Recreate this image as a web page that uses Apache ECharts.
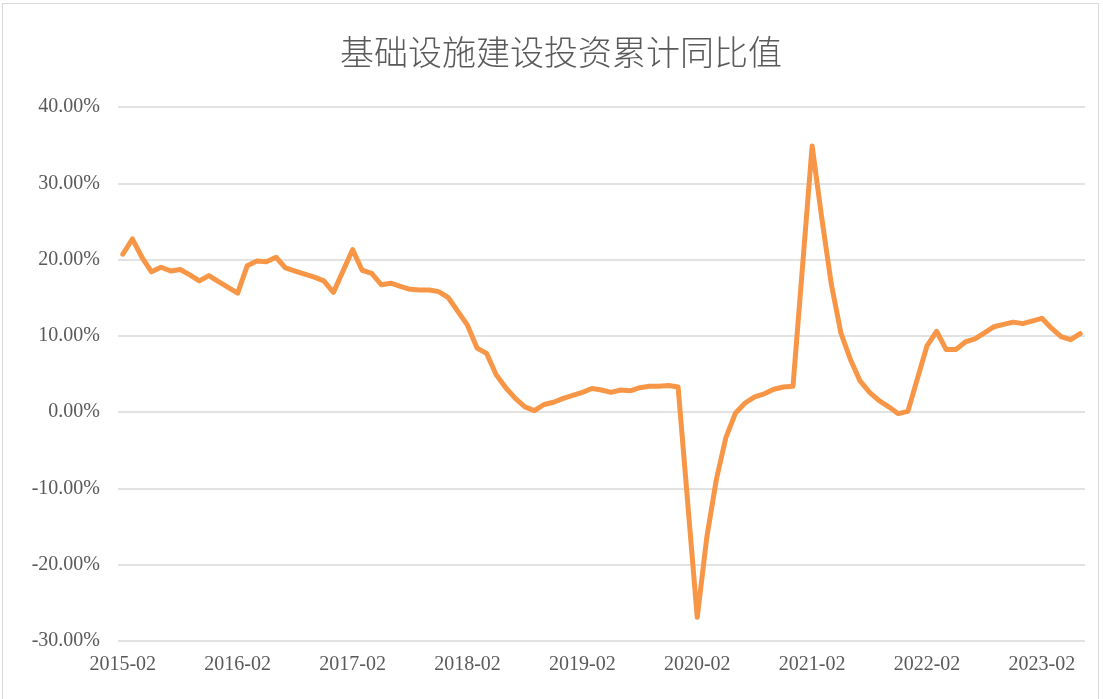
<!DOCTYPE html>
<html>
<head>
<meta charset="utf-8">
<script src="https://cdn.jsdelivr.net/npm/echarts@6/dist/echarts.min.js"></script>
<style>
html,body{margin:0;padding:0;background:#fff;}
#wrap{position:relative;width:1103px;height:699px;overflow:hidden;}
#chart{position:absolute;left:0;top:0;width:1103px;height:699px;}
#frame{position:absolute;left:2px;top:3px;width:1097px;height:720px;border:1px solid #d9d9d9;pointer-events:none;box-sizing:border-box;}
</style>
</head>
<body>
<div id="wrap"><div id="chart"></div><div id="frame"></div></div>
<script>
// Cumulative YoY growth (%) by month, Feb..Dec of each year plus Jan (null: no January release)
const title = '基础设施建设投资累计同比值';
const startYear = 2015, startMonth = 2;   // first category 2015-02
const endYear = 2023, endMonth = 6;       // last category 2023-06
// each array: Jan (null), Feb, Mar, ..., Dec
const y2015 = [null, 20.7, 22.7, 20.3, 18.4, 19.0, 18.5, 18.7, 18.0, 17.2, 17.9, 17.1];
const y2016 = [null, 15.6, 19.2, 19.8, 19.7, 20.3, 18.9, 18.5, 18.1, 17.7, 17.2, 15.7];
const y2017 = [null, 21.3, 18.6, 18.2, 16.7, 16.9, 16.5, 16.1, 16.0, 16.0, 15.8, 15.0];
const y2018 = [null, 11.4, 8.4, 7.7, 4.9, 3.2, 1.8, 0.7, 0.2, 1.0, 1.3, 1.8];
const y2019 = [null, 2.6, 3.1, 2.9, 2.6, 2.9, 2.8, 3.2, 3.4, 3.4, 3.5, 3.3];
const y2020 = [null, -26.9, -16.4, -8.8, -3.3, -0.1, 1.2, 2.0, 2.4, 3.0, 3.3, 3.4];
const y2021 = [null, 34.9, 25.5, 16.8, 10.4, 6.9, 4.1, 2.6, 1.5, 0.7, -0.2, 0.1];
const y2022 = [null, 8.7, 10.6, 8.2, 8.2, 9.2, 9.6, 10.4, 11.2, 11.5, 11.8, 11.6];
const y2023 = [null, 12.3, 11.0, 9.9, 9.5, 10.3];
const yTicks = { min: -30, max: 40, step: 10 };

const byYear = {2015: y2015, 2016: y2016, 2017: y2017, 2018: y2018, 2019: y2019,
                2020: y2020, 2021: y2021, 2022: y2022, 2023: y2023};
const categories = [], values = [];
for (let y = startYear; y <= endYear; y++) {
  const m0 = (y === startYear) ? startMonth : 1;
  const m1 = (y === endYear) ? endMonth : 12;
  for (let m = m0; m <= m1; m++) {
    categories.push(y + '-' + String(m).padStart(2, '0'));
    const v = byYear[y][m - 1];
    values.push(v === null || v === undefined ? '-' : v);
  }
}

const chart = echarts.init(document.getElementById('chart'), null, {renderer: 'canvas'});
const serif = '"Liberation Serif", "Times New Roman", serif';
chart.setOption({
  animation: false,
  backgroundColor: '#ffffff',
  title: {
    text: title,
    left: 335,
    top: 30,
    textStyle: {
      fontFamily: '"Noto Sans CJK SC", sans-serif',
      fontSize: 34,
      fontWeight: 300,
      color: '#595959'
    }
  },
  grid: { left: 118, right: 18, top: 107, bottom: 58, containLabel: false },
  xAxis: {
    type: 'category',
    data: categories,
    boundaryGap: true,
    axisLine: { show: false },
    axisTick: { show: false },
    axisLabel: {
      interval: 11,
      margin: 14,
      color: '#595959',
      fontFamily: serif,
      fontSize: 20
    },
    splitLine: { show: false }
  },
  yAxis: {
    type: 'value',
    min: yTicks.min,
    max: yTicks.max,
    interval: yTicks.step,
    axisLine: { show: false },
    axisTick: { show: false },
    axisLabel: {
      margin: 18,
      color: '#595959',
      fontFamily: serif,
      fontSize: 20,
      formatter: v => v.toFixed(2) + '%'
    },
    splitLine: { lineStyle: { color: '#d9d9d9', width: 1.5 } }
  },
  series: [{
    type: 'line',
    data: values,
    connectNulls: true,
    showSymbol: false,
    symbol: 'none',
    smooth: false,
    lineStyle: { color: '#F79646', width: 5, cap: 'round', join: 'round' },
    itemStyle: { color: '#F79646' }
  }]
});
</script>
</body>
</html>
